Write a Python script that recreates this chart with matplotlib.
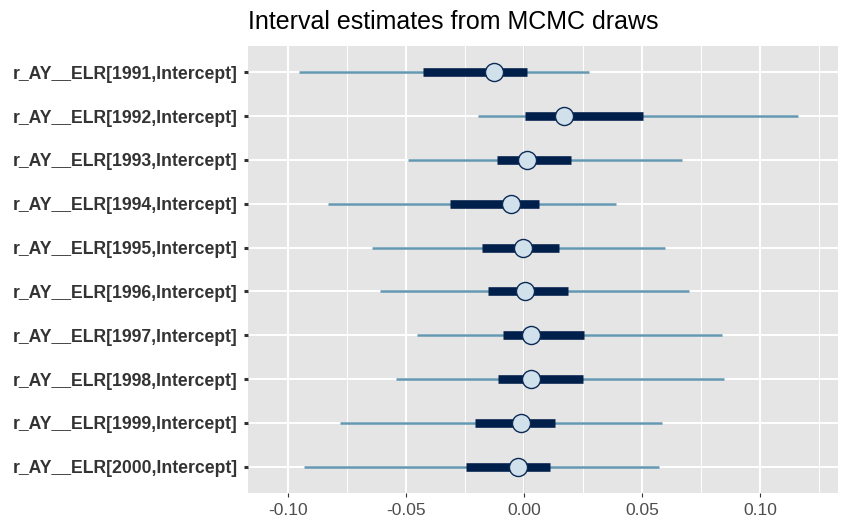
import matplotlib.pyplot as plt

params = [f"r_AY__ELR[{y},Intercept]" for y in range(1991, 2001)]

# medians and interval ends
medians = [-0.0127, 0.0170, 0.0011, -0.0054, -0.0005, 0.0003, 0.0029, 0.0028, -0.0013, -0.0028]
inner_lo = [-0.0427, 0.0003, -0.0114, -0.0315, -0.0177, -0.0152, -0.0089, -0.0109, -0.0208, -0.0248]
inner_hi = [0.0013, 0.0503, 0.0198, 0.0065, 0.0148, 0.0185, 0.0255, 0.0250, 0.0131, 0.0109]
outer_lo = [-0.0952, -0.0196, -0.0490, -0.0830, -0.0646, -0.0610, -0.0456, -0.0543, -0.0780, -0.0931]
outer_hi = [0.0273, 0.1160, 0.0670, 0.0389, 0.0597, 0.0699, 0.0837, 0.0848, 0.0586, 0.0571]

xticks = [-0.10, -0.05, 0.00, 0.05, 0.10]
xticklabels = ["-0.10", "-0.05", "0.00", "0.05", "0.10"]

fig = plt.figure(figsize=(8.41, 5.21), dpi=100)
ax = fig.add_axes([0.2949, 0.0537, 0.7015, 0.858])
ax.set_facecolor("#E5E5E5")

n = len(params)
ypos = list(range(n, 0, -1))

# grid
for x in [-0.125, -0.075, -0.025, 0.025, 0.075, 0.125]:
    ax.axvline(x, color="white", lw=0.7, zorder=0)
for x in xticks:
    ax.axvline(x, color="white", lw=1.4, zorder=0)
for y in ypos:
    ax.axhline(y, color="white", lw=1.4, zorder=0)
ax.axvline(0, color="#D6D6D6", lw=0.6, zorder=0.5)

for i in range(n):
    y = ypos[i]
    ax.plot([outer_lo[i], outer_hi[i]], [y, y], color="#6497B1", lw=1.8,
            solid_capstyle="butt", zorder=2)
    ax.plot([inner_lo[i], inner_hi[i]], [y, y], color="#011F4B", lw=6.2,
            solid_capstyle="butt", zorder=3)
    ax.plot(medians[i], y, "o", ms=13, mfc="#D1E1EC", mec="#0B2A55",
            mew=1.0, zorder=4)

ax.set_xlim(-0.117, 0.133)
ax.set_ylim(0.4, n + 0.6)
ax.set_yticks(ypos)
ax.set_yticklabels(params, fontsize=12.7, fontweight="bold",
                   family="Liberation Sans", color="#333333")
ax.set_xticks(xticks)
ax.set_xticklabels(xticklabels, fontsize=12.5, family="Liberation Sans",
                   color="#4D4D4D")
ax.tick_params(axis="y", length=3, width=2.2, color="#333333", pad=4.5)
ax.tick_params(axis="x", length=3, width=0.8, color="#333333", pad=4)
for s in ax.spines.values():
    s.set_visible(False)

fig.text(0.2949, 0.944, "Interval estimates from MCMC draws", fontsize=18,
         family="Liberation Sans", color="black", va="baseline", ha="left")

fig.savefig("out.png", dpi=100)
